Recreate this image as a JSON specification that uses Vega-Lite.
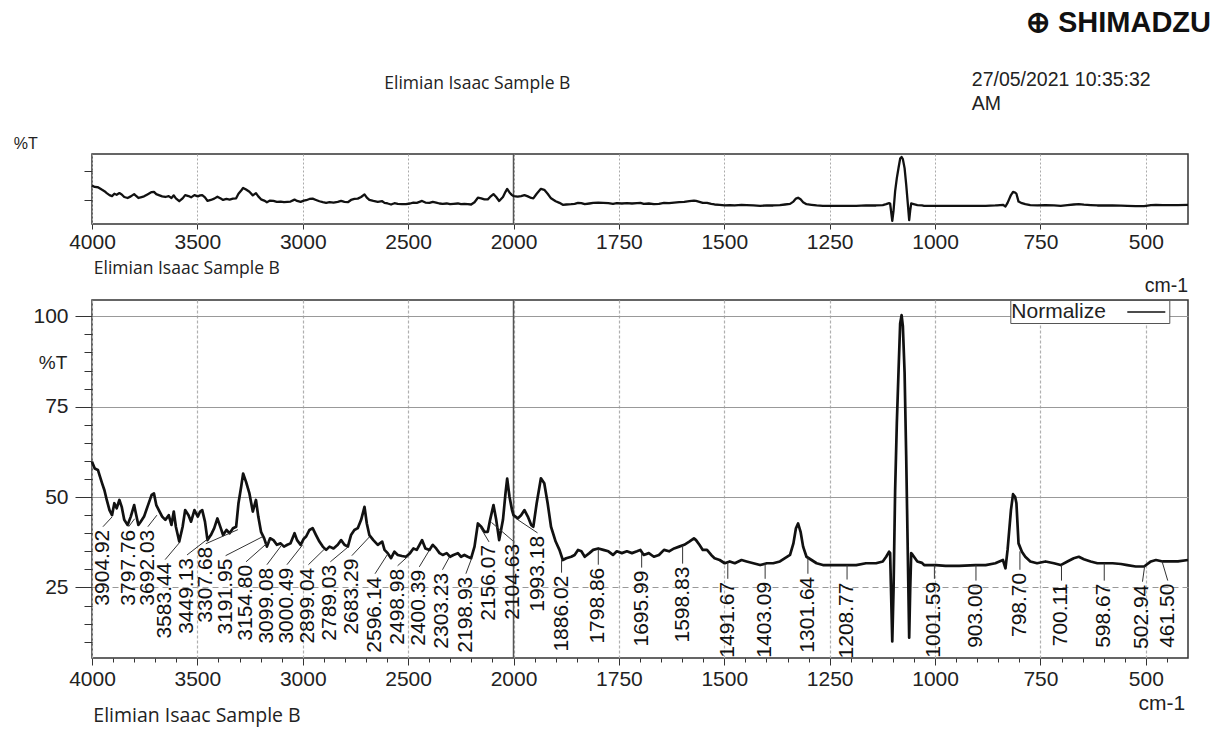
{
  "$schema": "https://vega.github.io/schema/vega-lite/v6.json",
  "padding": {"left": 12, "top": 9, "right": 5, "bottom": 5},
  "background": "white",
  "config": {
    "font": "Liberation Sans",
    "view": {"stroke": "#333", "strokeWidth": 1.5},
    "axis": {"labelFont": "Liberation Sans", "titleFont": "Liberation Sans", "labelColor": "#222", "titleColor": "#222", "titleFontWeight": "normal", "tickColor": "#333"}
  },
  "datasets": {
    "spec": [
      {"wn":4000,"t":59.8},{"wn":3987,"t":57.9},{"wn":3972,"t":57.5},{"wn":3964,"t":56},{"wn":3952,"t":53.8},{"wn":3941,"t":51.9},{"wn":3930,"t":49.2},{"wn":3917,"t":46.4},{"wn":3905,"t":45.0},{"wn":3894,"t":48.3},{"wn":3883,"t":46.9},{"wn":3870,"t":49.2},{"wn":3859,"t":47.3},{"wn":3847,"t":43.7},{"wn":3831,"t":42.3},{"wn":3816,"t":44.6},{"wn":3800,"t":47.8},{"wn":3792,"t":45.5},{"wn":3780,"t":42.3},{"wn":3769,"t":43.2},{"wn":3753,"t":44.6},{"wn":3737,"t":47.3},{"wn":3717,"t":50.6},{"wn":3706,"t":51.0},{"wn":3695,"t":47.8},{"wn":3683,"t":46.4},{"wn":3667,"t":44.6},{"wn":3652,"t":43.7},{"wn":3636,"t":45.0},{"wn":3623,"t":42.3},{"wn":3612,"t":46.0},{"wn":3602,"t":41.8},{"wn":3586,"t":37.7},{"wn":3570,"t":41.8},{"wn":3558,"t":46.4},{"wn":3542,"t":45.0},{"wn":3530,"t":43.2},{"wn":3514,"t":46.4},{"wn":3498,"t":44.6},{"wn":3487,"t":46.0},{"wn":3477,"t":46.4},{"wn":3464,"t":43.2},{"wn":3452,"t":38.1},{"wn":3436,"t":39.5},{"wn":3420,"t":41.4},{"wn":3405,"t":44.1},{"wn":3389,"t":41.4},{"wn":3378,"t":39.5},{"wn":3362,"t":40.9},{"wn":3347,"t":40.0},{"wn":3331,"t":41.4},{"wn":3316,"t":41.8},{"wn":3305,"t":48.3},{"wn":3292,"t":52.9},{"wn":3283,"t":56.5},{"wn":3269,"t":54.2},{"wn":3253,"t":51.0},{"wn":3237,"t":46.0},{"wn":3222,"t":49.2},{"wn":3211,"t":44.6},{"wn":3198,"t":40.4},{"wn":3183,"t":38.6},{"wn":3170,"t":36.3},{"wn":3155,"t":38.6},{"wn":3139,"t":38.1},{"wn":3123,"t":36.8},{"wn":3105,"t":37.2},{"wn":3089,"t":36.3},{"wn":3073,"t":36.8},{"wn":3058,"t":37.2},{"wn":3039,"t":40.0},{"wn":3027,"t":38.1},{"wn":3010,"t":36.8},
      {"wn":2995,"t":38.5},{"wn":2984,"t":39.1},{"wn":2968,"t":40.9},{"wn":2953,"t":41.4},{"wn":2937,"t":39.5},{"wn":2921,"t":37.7},{"wn":2905,"t":36.3},{"wn":2889,"t":35.4},{"wn":2873,"t":36.3},{"wn":2854,"t":35.8},{"wn":2834,"t":36.8},{"wn":2818,"t":38.1},{"wn":2802,"t":36.8},{"wn":2786,"t":36.3},{"wn":2771,"t":39.5},{"wn":2755,"t":40.9},{"wn":2739,"t":41.4},{"wn":2723,"t":43.7},{"wn":2707,"t":47.3},{"wn":2696,"t":42.7},{"wn":2684,"t":39.5},{"wn":2665,"t":38.1},{"wn":2644,"t":36.8},{"wn":2623,"t":37.7},{"wn":2612,"t":35.4},{"wn":2597,"t":34.5},{"wn":2581,"t":33.1},{"wn":2565,"t":34.9},{"wn":2549,"t":34.0},{"wn":2529,"t":33.7},{"wn":2510,"t":33.5},{"wn":2491,"t":34.5},{"wn":2475,"t":35.8},{"wn":2459,"t":35.4},{"wn":2446,"t":36.8},{"wn":2434,"t":38.1},{"wn":2418,"t":35.8},{"wn":2399,"t":35.4},{"wn":2383,"t":36.8},{"wn":2367,"t":35.8},{"wn":2351,"t":34.5},{"wn":2336,"t":34.0},{"wn":2317,"t":34.5},{"wn":2301,"t":33.5},{"wn":2285,"t":34.0},{"wn":2264,"t":34.5},{"wn":2249,"t":33.5},{"wn":2233,"t":34.0},{"wn":2217,"t":33.5},{"wn":2201,"t":33.1},{"wn":2185,"t":36.3},{"wn":2169,"t":42.7},{"wn":2153,"t":41.8},{"wn":2138,"t":40.4},{"wn":2122,"t":40.4},{"wn":2111,"t":43.7},{"wn":2095,"t":47.8},{"wn":2082,"t":43.7},{"wn":2068,"t":38.1},{"wn":2050,"t":43.7},{"wn":2038,"t":51.0},{"wn":2030,"t":55.1},{"wn":2019,"t":50.1},{"wn":2007,"t":46.4},
      {"wn":2000,"t":45.0},{"wn":1990,"t":44.1},{"wn":1982,"t":45.0},{"wn":1974,"t":46.4},{"wn":1966,"t":44.6},{"wn":1958,"t":42.3},{"wn":1953,"t":41.8},{"wn":1945,"t":48.3},{"wn":1935,"t":55.2},{"wn":1927,"t":53.8},{"wn":1919,"t":48.3},{"wn":1911,"t":41.8},{"wn":1900,"t":37.7},{"wn":1891,"t":35.4},{"wn":1883,"t":32.6},{"wn":1875,"t":33.1},{"wn":1863,"t":33.5},{"wn":1855,"t":34.0},{"wn":1847,"t":35.4},{"wn":1839,"t":35.0},{"wn":1831,"t":33.5},{"wn":1820,"t":34.5},{"wn":1811,"t":35.4},{"wn":1799,"t":35.8},{"wn":1787,"t":35.4},{"wn":1775,"t":35.0},{"wn":1764,"t":34.0},{"wn":1755,"t":35.0},{"wn":1743,"t":34.5},{"wn":1731,"t":35.0},{"wn":1719,"t":34.5},{"wn":1707,"t":35.0},{"wn":1699,"t":35.4},{"wn":1691,"t":34.0},{"wn":1679,"t":34.5},{"wn":1667,"t":33.5},{"wn":1655,"t":34.0},{"wn":1643,"t":35.4},{"wn":1631,"t":35.0},{"wn":1619,"t":35.8},{"wn":1607,"t":36.3},{"wn":1595,"t":36.8},{"wn":1583,"t":37.7},{"wn":1572,"t":38.6},{"wn":1567,"t":38.1},{"wn":1559,"t":36.8},{"wn":1551,"t":35.4},{"wn":1541,"t":35.4},{"wn":1531,"t":34.0},{"wn":1523,"t":33.1},{"wn":1511,"t":32.6},{"wn":1499,"t":31.7},{"wn":1487,"t":32.2},{"wn":1475,"t":31.7},{"wn":1459,"t":32.6},{"wn":1447,"t":32.2},{"wn":1431,"t":31.7},
      {"wn":1415,"t":31.2},{"wn":1399,"t":31.7},{"wn":1384,"t":31.7},{"wn":1368,"t":32.2},{"wn":1356,"t":33.1},{"wn":1344,"t":34.0},{"wn":1336,"t":37.2},{"wn":1330,"t":41.4},{"wn":1325,"t":42.7},{"wn":1319,"t":40.4},{"wn":1313,"t":36.3},{"wn":1305,"t":33.5},{"wn":1293,"t":32.6},{"wn":1281,"t":31.7},{"wn":1266,"t":31.2},{"wn":1250,"t":31.2},{"wn":1234,"t":31.2},{"wn":1211,"t":31.2},{"wn":1187,"t":31.2},{"wn":1164,"t":31.7},{"wn":1140,"t":31.7},{"wn":1124,"t":32.2},{"wn":1116,"t":33.5},{"wn":1109,"t":34.9},{"wn":1106.6,"t":34.5},{"wn":1101.5,"t":10.1},{"wn":1098.5,"t":24.4},{"wn":1094.7,"t":52},{"wn":1090.7,"t":70.4},{"wn":1086.6,"t":85},{"wn":1082.8,"t":98},{"wn":1079.4,"t":100.3},{"wn":1076.4,"t":97.3},{"wn":1072.3,"t":84.5},{"wn":1068.5,"t":61.5},{"wn":1064.6,"t":34},{"wn":1061.4,"t":11.1},{"wn":1059,"t":24.4},{"wn":1056.6,"t":34.5},{"wn":1053,"t":34.0},{"wn":1042,"t":32.2},{"wn":1031,"t":31.8},{"wn":1026,"t":31.2},{"wn":998,"t":31.2},{"wn":975,"t":31.0},{"wn":943,"t":31.0},{"wn":904,"t":31.2},{"wn":880,"t":31.2},{"wn":857,"t":31.7},
      {"wn":853,"t":31.9},{"wn":839,"t":32.6},{"wn":833,"t":30.3},{"wn":828,"t":35.4},{"wn":820,"t":46.4},{"wn":815,"t":50.8},{"wn":810,"t":50},{"wn":807,"t":48.3},{"wn":802,"t":37.2},{"wn":794,"t":34.9},{"wn":786,"t":33.5},{"wn":774,"t":32.2},{"wn":758,"t":31.7},{"wn":738,"t":32.2},{"wn":718,"t":31.7},{"wn":702,"t":31.2},{"wn":686,"t":32.2},{"wn":671,"t":33.1},{"wn":659,"t":33.5},{"wn":647,"t":32.8},{"wn":631,"t":32.2},{"wn":615,"t":31.7},{"wn":599,"t":31.7},{"wn":579,"t":31.7},{"wn":559,"t":31.5},{"wn":544,"t":31.2},{"wn":524,"t":30.8},{"wn":504,"t":30.8},{"wn":488,"t":32.2},{"wn":476,"t":32.6},{"wn":460,"t":32.2},{"wn":444,"t":32.2},{"wn":424,"t":32.2},{"wn":400,"t":32.6}
    ],
    "peaks": [
      {"label":"3904.92","lx":3948,"ly":41.8,"px":3904.92,"py":44.5},
      {"label":"3797.76","lx":3826,"ly":41.8,"px":3797.76,"py":44},
      {"label":"3692.03","lx":3735,"ly":41.8,"px":3692.03,"py":45},
      {"label":"3583.44","lx":3653,"ly":32.7,"px":3583.44,"py":37.5},
      {"label":"3449.13","lx":3549,"ly":34.0,"px":3449.13,"py":38.5},
      {"label":"3307.68","lx":3460,"ly":37.1,"px":3307.68,"py":41},
      {"label":"3191.95","lx":3366,"ly":33.8,"px":3191.95,"py":39},
      {"label":"3154.80","lx":3269,"ly":32.1,"px":3154.8,"py":38},
      {"label":"3099.08","lx":3170,"ly":31.3,"px":3099.08,"py":36.8},
      {"label":"3000.49","lx":3075,"ly":31.3,"px":3000.49,"py":36.8},
      {"label":"2899.04","lx":2973,"ly":31.3,"px":2899.04,"py":35.5},
      {"label":"2789.03","lx":2869,"ly":32.1,"px":2789.03,"py":36},
      {"label":"2683.29","lx":2767,"ly":33.8,"px":2683.29,"py":39},
      {"label":"2596.14","lx":2657,"ly":28.8,"px":2596.14,"py":34.3},
      {"label":"2498.98","lx":2550,"ly":31.0,"px":2498.98,"py":33.7},
      {"label":"2400.39","lx":2447,"ly":30.7,"px":2400.39,"py":35.2},
      {"label":"2303.23","lx":2337,"ly":29.9,"px":2303.23,"py":33.5},
      {"label":"2198.93","lx":2226,"ly":28.8,"px":2198.93,"py":33},
      {"label":"2156.07","lx":2116,"ly":37.6,"px":2156.07,"py":41.5},
      {"label":"2104.63","lx":2003,"ly":37.9,"px":2104.63,"py":43},
      {"label":"1993.18","lx":1943,"ly":40.1,"px":1993.18,"py":44},
      {"label":"1886.02","lx":1886.02,"ly":29.1,"px":1886.02,"py":32.6},
      {"label":"1798.86","lx":1798.86,"ly":31.3,"px":1798.86,"py":35.6},
      {"label":"1695.99","lx":1695.99,"ly":30.5,"px":1695.99,"py":34.4},
      {"label":"1598.83","lx":1598.83,"ly":31.6,"px":1598.83,"py":36.6},
      {"label":"1491.67","lx":1491.67,"ly":27.4,"px":1491.67,"py":31.9},
      {"label":"1403.09","lx":1403.09,"ly":27.4,"px":1403.09,"py":31.6},
      {"label":"1301.64","lx":1301.64,"ly":28.8,"px":1301.64,"py":33.3},
      {"label":"1208.77","lx":1208.77,"ly":27.2,"px":1208.77,"py":31.2},
      {"label":"1001.59","lx":1001.59,"ly":27.4,"px":1001.59,"py":31.2},
      {"label":"903.00","lx":903,"ly":26.9,"px":903,"py":31.2},
      {"label":"798.70","lx":798.7,"ly":29.9,"px":798.7,"py":35},
      {"label":"700.11","lx":700.11,"ly":26.9,"px":700.11,"py":31.2},
      {"label":"598.67","lx":598.67,"ly":26.9,"px":598.67,"py":31.7},
      {"label":"502.94","lx":508,"ly":26.6,"px":502.94,"py":30.8},
      {"label":"461.50","lx":448,"ly":26.9,"px":461.5,"py":32.2}
    ],
    "mark2000": [{"wn": 2000}]
  },
  "title": {"text": "⊕ SHIMADZU", "anchor": "end", "frame": "group", "font": "Liberation Sans", "fontSize": 29, "fontWeight": "bold", "color": "#111", "dx": 23, "offset": 1, "baseline": "bottom"},
  "spacing": 76,
  "bounds": "flush",
  "vconcat": [
    {
      "width": 1096,
      "height": 70,
      "title": {"text": "cm-1", "orient": "bottom", "anchor": "end", "frame": "group", "font": "Liberation Sans", "fontSize": 19.5, "fontWeight": "normal", "color": "#222", "baseline": "top", "offset": 0},
      "resolve": {"axis": {"x": "independent", "y": "independent"}},
      "layer": [
        {
          "data": {"name": "mark2000"},
          "mark": {"type": "rule", "color": "#555", "strokeWidth": 1.5},
          "encoding": {"x": {"field": "wn", "type": "quantitative", "axis": null}}
        },
        {
          "data": {"name": "spec"},
          "mark": {"type": "line", "color": "#111", "strokeWidth": 2.3, "strokeJoin": "round"},
          "encoding": {
            "x": {
              "field": "wn", "type": "quantitative",
              "scale": {"domain": [4000, 2000, 400], "range": [0, 421.5, 1096], "zero": false, "nice": false},
              "axis": {
                "values": [4000, 3500, 3000, 2500, 2000, 1750, 1500, 1250, 1000, 750, 500],
                "format": "d", "labelFontSize": 21, "labelFlush": false, "labelOverlap": false,
                "tickSize": 5, "labelPadding": 2, "domain": false,
                "grid": true, "gridColor": "#aaa", "gridDash": [2, 2], "gridWidth": 1,
                "title": "Elimian Isaac Sample B", "titleFont": "Open Sans", "titleFontSize": 17.5,
                "titleAlign": "left", "titleBaseline": "middle", "titleX": 1.3, "titleY": 44
              }
            },
            "y": {
              "field": "t", "type": "quantitative",
              "scale": {"domain": [5.5, 104.5], "zero": false, "nice": false},
              "axis": {
                "values": [40, 80], "labels": false, "tickSize": 8, "domain": false, "grid": false,
                "title": "%T", "titleAngle": 0, "titleAlign": "left", "titleBaseline": "middle",
                "titleX": -78.7, "titleY": -11, "titleFontSize": 16
              }
            }
          }
        }
      ]
    },
    {
      "width": 1096,
      "height": 358,
      "title": {"text": "Elimian Isaac Sample B", "orient": "bottom", "anchor": "start", "frame": "group", "font": "Open Sans", "fontSize": 19.5, "fontWeight": "normal", "color": "#222", "baseline": "top", "offset": -6, "dx": 1.3},
      "resolve": {"axis": {"x": "independent", "y": "independent"}},
      "layer": [
        {
          "data": {"name": "mark2000"},
          "mark": {"type": "rule", "color": "#555", "strokeWidth": 1.5},
          "encoding": {"x": {"field": "wn", "type": "quantitative", "axis": null}}
        },
        {
          "data": {"name": "spec"},
          "mark": {"type": "line", "strokeWidth": 2.7, "strokeJoin": "round"},
          "encoding": {
            "x": {
              "field": "wn", "type": "quantitative",
              "scale": {"domain": [4000, 2000, 400], "range": [0, 421.5, 1096], "zero": false, "nice": false},
              "axis": {
                "values": [4000,3900,3800,3700,3600,3500,3400,3300,3200,3100,3000,2900,2800,2700,2600,2500,2400,2300,2200,2100,2000,1950,1900,1850,1800,1750,1700,1650,1600,1550,1500,1450,1400,1350,1300,1250,1200,1150,1100,1050,1000,950,900,850,800,750,700,650,600,550,500,450],
                "format": "d",
                "labelExpr": "(datum.value >= 2000 && datum.value % 500 === 0) || (datum.value < 2000 && datum.value % 250 === 0) ? datum.label : ''",
                "labelFontSize": 21, "labelFlush": false, "labelOverlap": false, "labelPadding": 3,
                "tickSize": {"condition": {"test": "(datum.value >= 2000 && datum.value % 500 === 0) || (datum.value < 2000 && datum.value % 250 === 0)", "value": 7}, "value": 4},
                "domain": false,
                "grid": true, "gridColor": "#b0b0b0", "gridDash": [3, 2], "gridWidth": 1.2,
                "gridOpacity": {"condition": {"test": "(datum.value >= 2000 && datum.value % 500 === 0) || (datum.value < 2000 && datum.value % 250 === 0)", "value": 1}, "value": 0},
                "title": "cm-1", "titleFontSize": 21, "titleAlign": "right", "titleBaseline": "middle",
                "titleX": 1092.6, "titleY": 45.3
              }
            },
            "y": {
              "field": "t", "type": "quantitative",
              "scale": {"domain": [5.5, 104.5], "zero": false, "nice": false},
              "axis": {
                "values": [10,15,20,25,30,35,40,45,50,55,60,65,70,75,80,85,90,95,100],
                "labelExpr": "datum.value % 25 === 0 ? datum.label : ''",
                "labelFontSize": 21, "labelPadding": 7, "labelOverlap": false, "labelFlush": false,
                "tickSize": {"condition": {"test": "datum.value % 25 === 0", "value": 17}, "value": 8},
                "domain": false,
                "grid": true, "gridColor": "#999", "gridWidth": 1,
                "gridOpacity": {"condition": {"test": "datum.value % 25 === 0", "value": 1}, "value": 0},
                "gridDash": {"condition": {"test": "datum.value === 25", "value": [6, 4]}, "value": []},
                "title": "%T", "titleAngle": 0, "titleAlign": "left", "titleBaseline": "middle",
                "titleX": -53.7, "titleY": 62, "titleFontSize": 19
              }
            },
            "stroke": {
              "datum": "Normalize",
              "scale": {"range": ["#111"]},
              "legend": {
                "orient": "none", "legendX": 918.3, "legendY": 146,
                "title": "Normalize", "titleOrient": "left", "titleFontSize": 21, "titleFont": "Liberation Sans",
                "titleFontWeight": "normal", "titleColor": "#222", "titlePadding": 29,
                "titleAnchor": "middle", "titleBaseline": "middle",
                "labelExpr": "'\u00a0'", "labelOffset": 4, "labelFontSize": 21,
                "symbolType": "M-1.9,0H1.9", "symbolSize": 400, "symbolStrokeWidth": 1.5, "symbolStrokeColor": "#111", "symbolFillColor": "transparent",
                "strokeColor": "#555", "fillColor": "white", "padding": 1
              }
            }
          }
        },
        {
          "data": {"name": "peaks"},
          "mark": {"type": "rule", "color": "#333", "strokeWidth": 1},
          "encoding": {
            "x": {"field": "px", "type": "quantitative", "axis": null},
            "y": {"field": "py", "type": "quantitative", "axis": null},
            "x2": {"field": "lx"},
            "y2": {"field": "ly"}
          }
        },
        {
          "data": {"name": "peaks"},
          "mark": {"type": "text", "angle": 270, "align": "right", "baseline": "middle", "fontSize": 21, "font": "Liberation Sans", "color": "#111", "dx": -3},
          "encoding": {
            "x": {
              "field": "lx", "type": "quantitative",
              "axis": {
                "orient": "top", "labels": false, "ticks": false, "domain": false, "grid": false,
                "title": "Elimian Isaac Sample B", "titleFont": "Open Sans", "titleFontSize": 17.5,
                "titleAlign": "center", "titleBaseline": "middle", "titleX": 384.8, "titleY": -217
              }
            },
            "y": {
              "field": "ly", "type": "quantitative",
              "axis": {
                "orient": "right", "labels": false, "ticks": false, "domain": false, "grid": false,
                "title": ["27/05/2021 10:35:32", "AM"], "titleAngle": 0, "titleAlign": "left", "titleBaseline": "top",
                "titleX": -216.7, "titleY": -230, "titleFontSize": 19.5, "titleLineHeight": 24
              }
            },
            "text": {"field": "label"}
          }
        }
      ]
    }
  ]
}
